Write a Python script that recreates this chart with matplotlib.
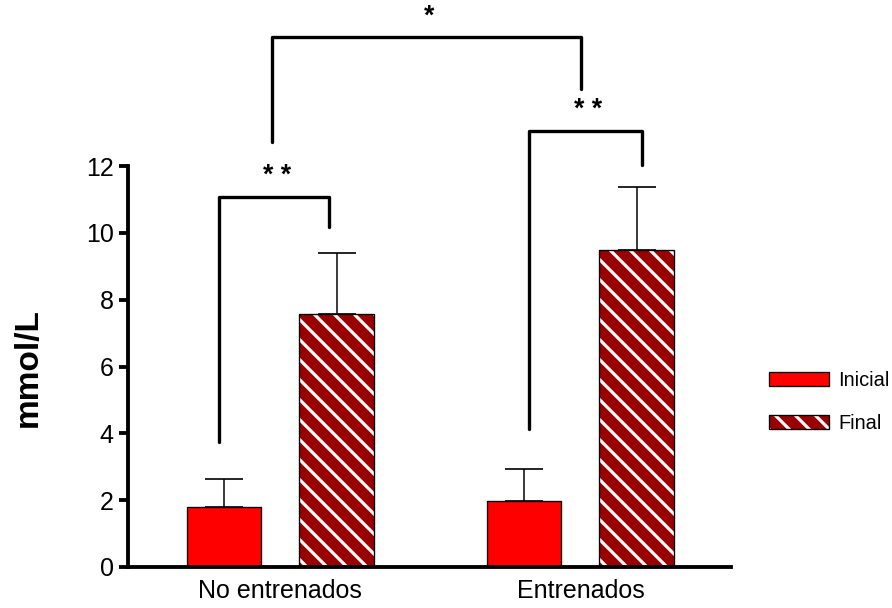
import matplotlib
matplotlib.use("Agg")
from matplotlib import pyplot as plt
from matplotlib.patches import Patch
from matplotlib.legend_handler import HandlerTuple

plt.rcParams['font.family'] = ['Liberation Sans', 'DejaVu Sans']
plt.rcParams['hatch.linewidth'] = 1.9

# data
groups = ["No entrenados", "Entrenados"]
inicial = [1.80, 1.97]
inicial_err = [0.83, 0.96]
final = [7.57, 9.50]
final_err = [1.83, 1.87]

# significance brackets: (x_left, x_right, y_left_bottom, y_top, y_right_bottom, label)
brackets = [
    (-0.205, 0.162, 3.74, 11.07, 10.17, "* *"),
    (0.828, 1.205, 4.13, 13.05, 12.03, "* *"),
    (-0.028, 1.002, 12.72, 15.86, 14.30, "*"),
]

red = "#FF0000"
darkred = "#990000"
off = 0.187
w = 0.247

fig = plt.figure(figsize=(892/120, 608/120), dpi=120)
ax = fig.add_axes([128/892, 1-567/608, 603/892, 401/608])

x = [0, 1]
xi = [v - off for v in x]
xf = [v + off for v in x]

ax.bar(xi, inicial, width=w, color=red, edgecolor="black", linewidth=0.8, zorder=2)
ax.errorbar(xi, inicial, yerr=[[0, 0], inicial_err], fmt="none", ecolor="black",
            elinewidth=0.9, capsize=11.5, capthick=1.0, zorder=1)
# hatched bars: hatch is drawn in edge colour, so outline drawn separately
ax.bar(xf, final, width=w, color=darkred, edgecolor="white", linewidth=0, hatch="\\\\", zorder=2)
ax.bar(xf, final, width=w, color="none", edgecolor="black", linewidth=0.8, zorder=3)
ax.errorbar(xf, final, yerr=[[0, 0], final_err], fmt="none", ecolor="black",
            elinewidth=0.9, capsize=11.5, capthick=1.0, zorder=1)

for xl, xr, yl, yt, yr, lab in brackets:
    ax.plot([xl, xl, xr, xr], [yl, yt, yt, yr], color="black", lw=2.0,
            solid_capstyle="round", solid_joinstyle="round", clip_on=False)
    ax.text((xl + xr) / 2 + 0.01, yt + 0.62, lab, ha="center", va="center", fontsize=16,
            fontweight="bold", clip_on=False)

ax.set_xlim(-0.508, 1.502)
ax.set_ylim(0, 12)
ax.set_yticks([0, 2, 4, 6, 8, 10, 12])
ax.set_xticks(x)
ax.set_xticklabels(groups)
ax.tick_params(axis="x", length=0, pad=7, labelsize=15)
ax.tick_params(axis="y", length=5.5, width=2.3, pad=3, labelsize=15)
for s in ["top", "right"]:
    ax.spines[s].set_visible(False)
for s in ["left", "bottom"]:
    ax.spines[s].set_linewidth(2.3)

fig.text(28/892, 1-368/608, "mmol/L", rotation=90, ha="center", va="center",
         fontsize=20, fontweight="bold")

h1 = Patch(facecolor=red, edgecolor="black", linewidth=0.8)
h2a = Patch(facecolor=darkred, edgecolor="white", linewidth=0, hatch="\\\\")
h2b = Patch(facecolor="none", edgecolor="black", linewidth=0.8)
fig.legend([h1, (h2a, h2b)], ["Inicial", "Final"], loc="center left",
           bbox_to_anchor=(769/892, 1-402/608), frameon=False, fontsize=12,
           borderpad=0, borderaxespad=0, handlelength=3.0, handleheight=0.65,
           handletextpad=0.45, labelspacing=1.2,
           handler_map={tuple: HandlerTuple(ndivide=1, pad=0)})

fig.savefig("out.png", dpi=120)
